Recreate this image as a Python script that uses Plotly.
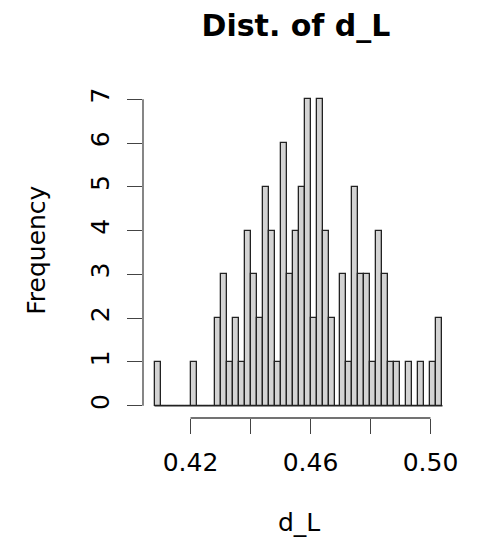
import plotly.graph_objects as go

# Histogram data
bin_start = 0.408
bin_width = 0.002
counts = [1, 0, 0, 0, 0, 0, 1, 0, 0, 0,
          2, 3, 1, 2, 1, 4, 3, 2, 5, 4,
          1, 6, 3, 4, 5, 7, 2, 7, 4, 2,
          0, 3, 1, 5, 3, 3, 1, 4, 3, 1,
          1, 0, 1, 0, 1, 0, 1, 2]
x_ticks = [0.42, 0.44, 0.46, 0.48, 0.50]
x_ticklabels = ["0.42", "", "0.46", "", "0.50"]
y_ticks = [0, 1, 2, 3, 4, 5, 6, 7]
y_ticklabels = ["0", "1", "2", "3", "4", "5", "6", "7"]
title = "Dist. of d_L"
x_title = "d_L"
y_title = "Frequency"

edges = [bin_start + i * bin_width for i in range(len(counts) + 1)]
centers = [(edges[i] + edges[i + 1]) / 2 for i in range(len(counts))]

lo, hi = edges[0], edges[-1]
ext = (hi - lo) * 0.04
x_range = [lo - ext, hi + ext]
ymax = max(counts)
y_range = [-ymax * 0.04, ymax * 1.04]

FONT = "DejaVu Sans"

fig = go.Figure()
fig.add_trace(go.Bar(
    x=centers, y=counts, width=bin_width,
    marker=dict(color="#d3d3d3", line=dict(color="#222222", width=1.3)),
    showlegend=False, hoverinfo="skip",
))

# baseline for zero-count bins (as R draws)
fig.add_shape(type="line", xref="x", yref="y", x0=edges[0], x1=edges[-1], y0=0, y1=0,
              line=dict(color="#222222", width=1.3), layer="above")
# R-style axis lines spanning first..last tick
fig.add_shape(type="line", xref="x", yref="paper", x0=x_ticks[0], x1=x_ticks[-1], y0=0, y1=0,
              line=dict(color="#444444", width=1.3))
fig.add_shape(type="line", xref="paper", yref="y", x0=0, x1=0, y0=y_ticks[0], y1=y_ticks[-1],
              line=dict(color="#444444", width=1.3))

fig.update_layout(
    width=479, height=543,
    margin=dict(l=143, r=25, t=87, b=125),
    paper_bgcolor="white", plot_bgcolor="white",
    bargap=0,
    font=dict(family=FONT, size=25, color="black"),
    title=dict(text="<b>" + title + "</b>", x=296 / 479, xref="container", xanchor="center",
               y=1 - 25 / 543, yref="container", yanchor="middle",
               font=dict(family=FONT, size=30, color="black")),
    xaxis=dict(range=x_range, showgrid=False, zeroline=False, showline=False,
               tickmode="array", tickvals=x_ticks, ticktext=x_ticklabels,
               ticks="outside", ticklen=15, tickwidth=1.3, tickcolor="#444444",
               ticklabelstandoff=7,
               tickfont=dict(family=FONT, size=25, color="black")),
    yaxis=dict(range=y_range, showgrid=False, zeroline=False, showline=False,
               tickmode="array", tickvals=y_ticks, ticktext=y_ticklabels,
               ticks="outside", ticklen=15, tickwidth=1.3, tickcolor="#444444",
               tickangle=-90, ticklabelstandoff=8,
               tickfont=dict(family=FONT, size=25, color="black")),
    annotations=[
        dict(text=y_title, xref="paper", yref="paper", x=(37 - 143.2) / 311, y=(417.7 - 250) / 330.3,
             textangle=-90, showarrow=False, xanchor="center", yanchor="middle",
             font=dict(family=FONT, size=25, color="black")),
        dict(text=x_title, xref="paper", yref="paper", x=(299 - 143.2) / 311, y=(417.7 - 522) / 330.3,
             showarrow=False, xanchor="center", yanchor="middle",
             font=dict(family=FONT, size=25, color="black")),
    ],
)

fig.write_html("out.html")
